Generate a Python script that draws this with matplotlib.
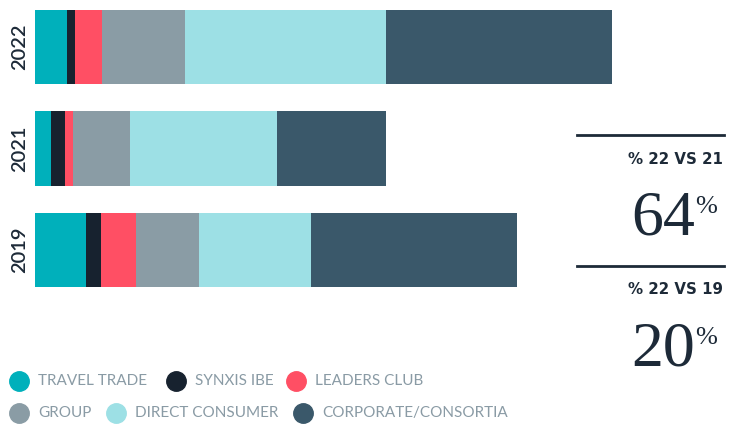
import matplotlib.pyplot as plt
from matplotlib.lines import Line2D

# segment values (same unit for every year)
years = ['2022', '2021', '2019']
channels = ['TRAVEL TRADE', 'SYNXIS IBE', 'LEADERS CLUB',
            'GROUP', 'DIRECT CONSUMER', 'CORPORATE/CONSORTIA']
travel_trade = [32, 16, 51]
synxis_ibe = [8, 14, 15]
leaders_club = [27, 8, 35]
group = [83, 57, 63]
direct_consumer = [201, 147, 112]
corporate = [226, 109, 206]
colors = ['#00b0bb', '#17222f', '#ff4f64', '#8a9ca5', '#9de0e5', '#3a586a']

stat_labels = ['% 22 VS 21', '% 22 VS 19']
stat_values = ['64', '20']

W, H = 739, 424
fig = plt.figure(figsize=(W / 100, H / 100), dpi=100)

# axes placed so one data unit is one pixel wide
ax = fig.add_axes([35 / W, (H - 300) / H, 577 / W, 295 / H])
series = [travel_trade, synxis_ibe, leaders_club, group, direct_consumer, corporate]
ypos = range(len(years))
left = [0] * len(years)
for vals, c in zip(series, colors):
    ax.barh(ypos, vals, left=left, height=0.73, color=c, linewidth=0)
    left = [l + v for l, v in zip(left, vals)]

ax.set_xlim(0, 577)
ax.set_ylim(253 / 101.5, -42 / 101.5)
ax.axis('off')

for i, y in enumerate(years):
    ax.text(-15, i, y, rotation=90, ha='center', va='center',
            fontsize=14.5, family='Lato', fontweight='semibold', color='#1d2a38')

# comparison panel on the right
for k, (lab, val) in enumerate(zip(stat_labels, stat_values)):
    ytop = 135 + k * 131
    fig.add_artist(Line2D([577 / W, 724 / W], [1 - ytop / H] * 2,
                          color='#1d2a38', linewidth=2))
    fig.text(723 / W, 1 - (ytop + 24) / H, lab, ha='right', va='center',
             fontsize=10.8, family='DejaVu Sans', fontweight='bold', color='#1d2a38')
    fig.text(695 / W, 1 - (ytop + 100) / H, val, ha='right', va='baseline',
             fontsize=46, family='Liberation Serif', color='#1d2a38')
    fig.text(695 / W, 1 - (ytop + 78) / H, '%', ha='left', va='baseline',
             fontsize=19, family='Liberation Serif', color='#1d2a38')

# legend, two rows
legend_pos = [(19, 381), (176, 381), (296, 381), (19, 413), (116, 413), (303, 413)]
for name, c, (x, y) in zip(channels, colors, legend_pos):
    fig.add_artist(Line2D([x / W], [1 - y / H], marker='o', markersize=14,
                          color=c, linestyle='none'))
    fig.text((x + 19) / W, 1 - y / H, name, ha='left', va='center',
             fontsize=11, family='Lato', color='#8a9ba5')

fig.savefig('out.png', dpi=100)
